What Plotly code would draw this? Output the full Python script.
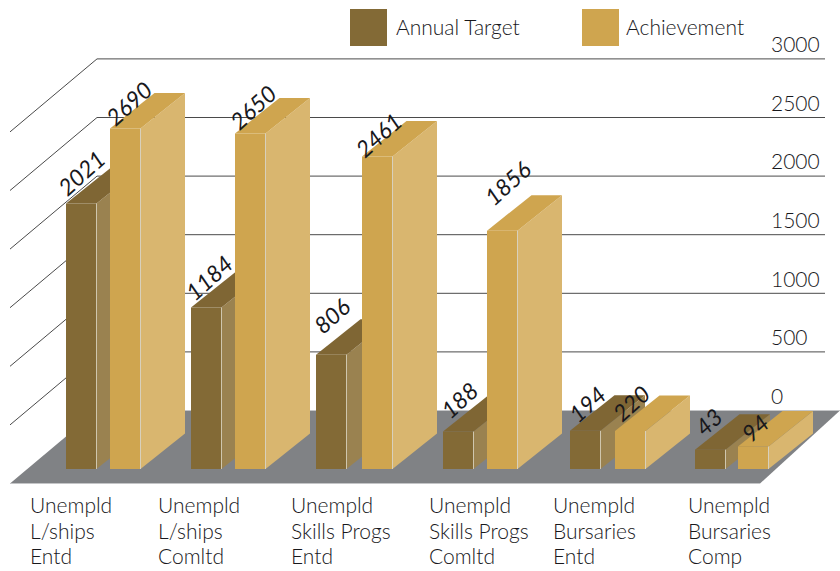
import plotly.graph_objects as go

categories = [
    "Unempld<br>L/ships<br>Entd",
    "Unempld<br>L/ships<br>Comltd",
    "Unempld<br>Skills Progs<br>Entd",
    "Unempld<br>Skills Progs<br>Comltd",
    "Unempld<br>Bursaries<br>Entd",
    "Unempld<br>Bursaries<br>Comp",
]
annual_target = [2021, 1184, 806, 188, 194, 43]
achievement = [2690, 2650, 2461, 1856, 220, 94]
tick_values = [0, 500, 1000, 1500, 2000, 2500, 3000]

W, H = 840, 571
FONT = "Lato"
TEXT = "#18181c"
LABEL_FONT = dict(family=FONT, size=21, color=TEXT, weight=300)

# axis scales: pixels per unit, and pixel row of value 0
WALL_K, WALL_0 = 0.1172, 410.5
LABEL_K, LABEL_0 = 0.1172, 396.5
TARGET_K, TARGET_0 = 0.1245, 455.0
ACHIEVE_K, ACHIEVE_0 = 0.1225, 458.0


def axis_range(k, zero):
    return [(zero - H) / k, zero / k]


# depth of the fake perspective, in pixels
DX, DY = 44.5, 35.5
BAR_W = 30.5
FLOOR_PX = 469

target_left = [66, 191, 316, 443, 570, 695]
achieve_left = [110, 235, 362, 487, 615, 738]
label_left = [28, 156, 289, 427, 551, 686]
label_rows = [504, 530, 555]

# pixel nudges of the rotated value labels from each bar's top-left corner
target_nudge = [(15, 30), (17, 30), (15, 39), (16, 32), (17, 27), (13, 28)]
achieve_nudge = [(19, 25), (18, 26), (16, 22), (20, 48), (16, 28), (17, 18)]

SERIES = [
    ("Annual Target", annual_target, target_left, target_nudge, "y2", TARGET_K, TARGET_0,
     "#836a36", "#9a8250", "#7f6634", "#cfc6ae"),
    ("Achievement", achievement, achieve_left, achieve_nudge, "y3", ACHIEVE_K, ACHIEVE_0,
     "#cfa54f", "#d9b66f", "#cfa54f", "#d8d0bc"),
]

fig = go.Figure()

# floor and back-wall lines
floor_units = (483.5 - WALL_0) / WALL_K
fig.add_trace(go.Scatter(
    x=[10, 97, 840, 760, 10], y=[-floor_units, 0, 0, -floor_units, -floor_units],
    mode="lines", fill="toself", fillcolor="#808285", line=dict(width=0),
    hoverinfo="skip", showlegend=False))
fig.add_trace(go.Scatter(
    x=[97, 840, None, 10, 760], y=[0, 0, None, -floor_units, -floor_units],
    mode="lines", line=dict(color="#c4c5c7", width=1), hoverinfo="skip", showlegend=False))
for v in tick_values[1:]:
    fig.add_trace(go.Scatter(
        x=[10, 97, 825], y=[v - floor_units, v, v],
        mode="lines", line=dict(color="#4a4a4a", width=1), hoverinfo="skip", showlegend=False))

# hidden trace that keeps the tick-label axis alive
fig.add_trace(go.Scatter(x=[800] * len(tick_values), y=tick_values, yaxis="y4", mode="markers",
                         marker=dict(opacity=0), hoverinfo="skip", showlegend=False))

for name, values, lefts, _, yax, k, zero, front, side, top, edge in SERIES:
    base_value = (zero - FLOOR_PX) / k
    depth_units = DY / k
    fig.add_trace(go.Bar(
        x=[l + BAR_W / 2 for l in lefts],
        y=[v - base_value for v in values],
        base=base_value, width=BAR_W, yaxis=yax, name=name,
        marker=dict(color=front, line=dict(width=0)), showlegend=False))
    for l, v in zip(lefts, values):
        r = l + BAR_W
        fig.add_trace(go.Scatter(
            x=[r, r + DX, r + DX, r, r],
            y=[base_value, base_value + depth_units, v + depth_units, v, base_value],
            yaxis=yax, mode="lines", fill="toself", fillcolor=side, line=dict(width=0),
            hoverinfo="skip", showlegend=False))
        fig.add_trace(go.Scatter(
            x=[l, r, r + DX, l + DX, l],
            y=[v, v, v + depth_units, v + depth_units, v],
            yaxis=yax, mode="lines", fill="toself", fillcolor=top, line=dict(width=0),
            hoverinfo="skip", showlegend=False))
        fig.add_trace(go.Scatter(
            x=[r, r], y=[base_value, v], yaxis=yax, mode="lines",
            line=dict(color=edge, width=1), hoverinfo="skip", showlegend=False))

annotations = []
for name, values, lefts, nudges, yax, *_ in SERIES:
    for l, v, (nx, ny) in zip(lefts, values, nudges):
        annotations.append(dict(
            x=l + nx, y=v, xref="x", yref=yax, text=f"<i>{v}</i>", showarrow=False,
            yshift=ny, textangle=-42,
            font=dict(family=FONT, size=23, color="#18181c", weight=400)))
for l, c in zip(label_left, categories):
    for row, line in zip(label_rows, c.split("<br>")):
        annotations.append(dict(
            x=l, y=1 - row / H, xref="x", yref="paper", text=line, showarrow=False,
            xanchor="left", yanchor="middle", font=LABEL_FONT))
for x, label in [(394, "Annual Target"), (624, "Achievement")]:
    annotations.append(dict(
        x=x, y=1 - 27 / H, xref="x", yref="paper", text=label, showarrow=False,
        xanchor="left", yanchor="middle", font=LABEL_FONT))

shapes = [
    dict(type="rect", xref="x", yref="paper", x0=350, x1=387, y0=1 - 46 / H, y1=1 - 9 / H,
         fillcolor="#836a36", line=dict(width=0)),
    dict(type="rect", xref="x", yref="paper", x0=582, x1=619, y0=1 - 46 / H, y1=1 - 9 / H,
         fillcolor="#cfa54f", line=dict(width=0)),
]

hidden = dict(visible=False, fixedrange=True)
fig.update_layout(
    width=W, height=H, margin=dict(l=0, r=0, t=0, b=0),
    paper_bgcolor="white", plot_bgcolor="white", showlegend=False,
    barmode="overlay",
    xaxis=dict(range=[0, W], **hidden),
    yaxis=dict(range=axis_range(WALL_K, WALL_0), **hidden),
    yaxis2=dict(range=axis_range(TARGET_K, TARGET_0), overlaying="y", **hidden),
    yaxis3=dict(range=axis_range(ACHIEVE_K, ACHIEVE_0), overlaying="y", **hidden),
    yaxis4=dict(range=axis_range(LABEL_K, LABEL_0), overlaying="y", side="right",
                anchor="free", position=770 / W, tickmode="array", tickvals=tick_values,
                ticks="", showgrid=False, zeroline=False, showline=False, ticklabelstandoff=0,
                tickfont=LABEL_FONT, fixedrange=True),
    annotations=annotations, shapes=shapes,
)

fig.write_html("out.html", config=dict(displayModeBar=False),
               post_script="document.body.style.margin='0';document.body.style.overflow='hidden';")
